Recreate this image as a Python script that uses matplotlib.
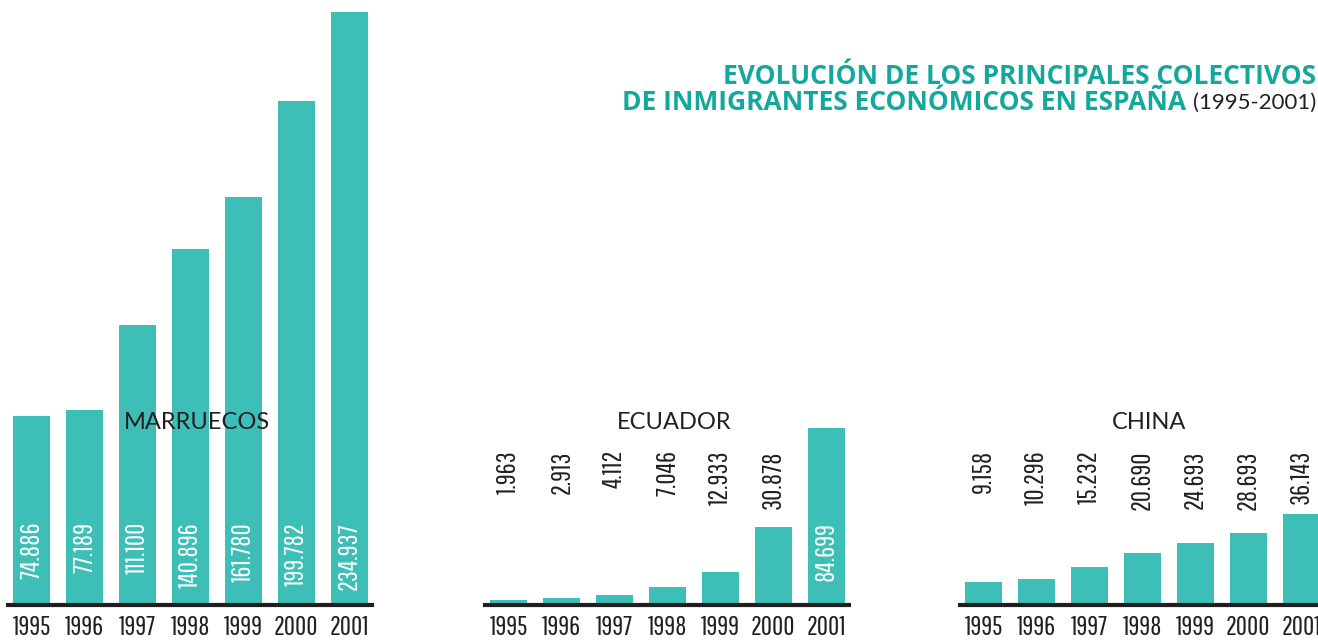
import matplotlib
matplotlib.use('Agg')
import matplotlib.pyplot as plt

years = ['1995', '1996', '1997', '1998', '1999', '2000', '2001']
marruecos = [74886, 77189, 111100, 140896, 161780, 199782, 234937]
ecuador = [1963, 2913, 4112, 7046, 12933, 30878, 84699]
china = [9158, 10296, 15232, 20690, 24693, 28693, 36143]
# in the original the last Ecuador bar is drawn shorter than its value
ecuador_bars = [1963, 2913, 4112, 7046, 12933, 30878, 70100]

TEAL = '#3dbfb8'
TITLE_TEAL = '#14a89c'
DARK = '#231f20'
NUM_FONT = ['Pathway Gothic One', 'DejaVu Sans']
LBL_FONT = ['Lato', 'DejaVu Sans']
TITLE_FONT = ['Open Sans', 'DejaVu Sans']

W, H = 1318, 640
fig = plt.figure(figsize=(W / 100, H / 100), dpi=100)


def fmt(v):
    return f"{v:,}".replace(',', '.')


def panel(left_px, name, values, heights, inside):
    ax = fig.add_axes([left_px / W, 35 / H, 364 / W, 593 / H])
    x = range(len(years))
    ax.bar(x, heights, width=0.7, color=TEAL, clip_on=False, zorder=2)
    ax.set_xlim(-0.45, 6.43)
    ax.set_ylim(0, max(marruecos))
    ax.axhline(0, color=DARK, lw=3, clip_on=False, zorder=3)
    for s in ax.spines.values():
        s.set_visible(False)
    ax.set_yticks([])
    ax.set_xticks(list(x))
    ax.set_xticklabels(years, family=NUM_FONT, fontsize=19.5, color=DARK)
    ax.tick_params(axis='x', length=0, pad=7)
    ax.text(3.13, 72500, name, family=LBL_FONT, fontsize=17, color=DARK,
            ha='center', va='center', zorder=4)
    for i, v in enumerate(values):
        if inside[i]:
            y, c = 32900, 'white'
        else:
            y, c = 61400, DARK
        ax.text(i, y, fmt(v), rotation=90, ha='center', va='top',
                family=NUM_FONT, fontsize=19.5, color=c, zorder=4)
    return ax


panel(8, 'MARRUECOS', marruecos, marruecos, [True] * 7)
panel(485, 'ECUADOR', ecuador, ecuador_bars, [False] * 6 + [True])
panel(960, 'CHINA', china, china, [False] * 7)

fig.text(1316 / W, 1 - 76 / H, 'EVOLUCIÓN DE LOS PRINCIPALES COLECTIVOS',
         ha='right', va='center', family=TITLE_FONT, fontweight='bold',
         fontsize=19, color=TITLE_TEAL)
fig.text(1316 / W, 1 - 103 / H, '(1995-2001)', ha='right', va='center',
         family=LBL_FONT, fontsize=16, color=DARK)
fig.text(1186 / W, 1 - 103 / H, 'DE INMIGRANTES ECONÓMICOS EN ESPAÑA',
         ha='right', va='center', family=TITLE_FONT, fontweight='bold',
         fontsize=19, color=TITLE_TEAL)

fig.savefig('out.png', dpi=100)
